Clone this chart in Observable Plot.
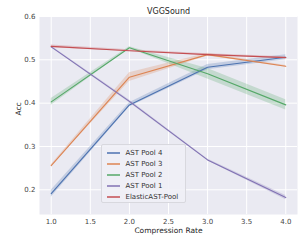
<!DOCTYPE html>
<html><head><meta charset="utf-8">
<script src="https://cdn.jsdelivr.net/npm/d3@7"></script>
<script src="https://cdn.jsdelivr.net/npm/@observablehq/plot@0.6"></script>
<style>
body{margin:0;background:#fff;font-family:"DejaVu Sans",sans-serif;}
#wrap{position:relative;width:302px;height:240px;}
#legend{position:absolute;left:101px;top:144px;width:85px;height:59px;box-sizing:border-box;border:1px solid #d8d8de;border-radius:2px;background:rgba(240,240,246,0.9);font-size:7px;color:#333;padding:2px 0 0 5px;}
.row{display:flex;align-items:center;height:11px;}
.sw{width:12.5px;height:2px;margin-right:6px;opacity:0.75;}
</style></head>
<body><div id="wrap"><div id="chart"></div><div id="legend"></div></div>
<script>
const rates = [1.0, 2.0, 3.0, 4.0];
const seriesNames = ["AST Pool 4", "AST Pool 3", "AST Pool 2", "AST Pool 1", "ElasticAST-Pool"];
const colors = ["#4c72b0", "#dd8452", "#55a868", "#8172b3", "#c44e52"];
const pool4 = [0.191, 0.396, 0.483, 0.506];
const pool3 = [0.256, 0.460, 0.512, 0.485];
const pool2 = [0.403, 0.528, 0.468, 0.396];
const pool1 = [0.530, 0.404, 0.269, 0.182];
const elastic = [0.531, 0.521, 0.512, 0.505];
const ci4 = [0.008, 0.005, 0.006, 0.006];
const ci3 = [0.002, 0.010, 0.003, 0.002];
const ci2 = [0.008, 0.002, 0.012, 0.012];
const ci1 = [0.002, 0.003, 0.002, 0.005];
const ciE = [0.003, 0.002, 0.002, 0.002];
const xTicks = [1.0, 1.5, 2.0, 2.5, 3.0, 3.5, 4.0];
const yTicks = [0.2, 0.3, 0.4, 0.5, 0.6];

const allVals = [pool4, pool3, pool2, pool1, elastic];
const allCi = [ci4, ci3, ci2, ci1, ciE];
const rows = [];
seriesNames.forEach((s, i) => rates.forEach((r, j) => rows.push({series: s, x: r, y: allVals[i][j], lo: allVals[i][j] - allCi[i][j], hi: allVals[i][j] + allCi[i][j]})));

const chart = Plot.plot({
  width: 302, height: 240,
  marginLeft: 39, marginRight: 5, marginTop: 16, marginBottom: 26,
  style: {fontFamily: "DejaVu Sans, sans-serif", fontSize: "7px", color: "#444", background: "#fff"},
  x: {domain: [0.85, 4.15], ticks: xTicks, tickFormat: d => d.toFixed(1), tickSize: 0, tickPadding: 5, label: null},
  y: {domain: [0.143, 0.6], ticks: yTicks, tickFormat: d => String(+d.toFixed(1)), tickSize: 0, tickPadding: 4, label: null},
  color: {domain: seriesNames, range: colors},
  marks: [
    Plot.frame({fill: "#eaeaf2", stroke: null}),
    Plot.gridX(xTicks, {stroke: "#fff", strokeOpacity: 1, strokeWidth: 1}),
    Plot.gridY(yTicks, {stroke: "#fff", strokeOpacity: 1, strokeWidth: 1}),
    Plot.axisX({ticks: xTicks, tickFormat: d => d.toFixed(1), tickSize: 0, tickPadding: 5, fontSize: 7, fill: "#444", label: null}),
    Plot.axisY({ticks: yTicks, tickFormat: d => String(+d.toFixed(1)), tickSize: 0, tickPadding: 4, fontSize: 7, fill: "#444", label: null}),
    Plot.areaY(rows, {x: "x", y1: "lo", y2: "hi", fill: "series", fillOpacity: 0.25, z: "series"}),
    Plot.line(rows, {x: "x", y: "y", stroke: "series", z: "series", strokeWidth: 1.1}),
    Plot.text(["VGGSound"], {frameAnchor: "top", dy: -8, fontSize: 8, fill: "#262626"}),
    Plot.text(["Compression Rate"], {frameAnchor: "bottom", dy: 18.5, fontSize: 7.5, fill: "#262626"}),
    Plot.text(["Acc"], {frameAnchor: "left", dx: -21, rotate: -90, fontSize: 7.5, fill: "#262626"})
  ]
});
document.getElementById("chart").appendChild(chart);
const lg = document.getElementById("legend");
seriesNames.forEach((s, i) => {
  const r = document.createElement("div"); r.className = "row";
  r.innerHTML = `<span class="sw" style="background:${colors[i]}"></span><span>${s}</span>`;
  lg.appendChild(r);
});
</script></body></html>
